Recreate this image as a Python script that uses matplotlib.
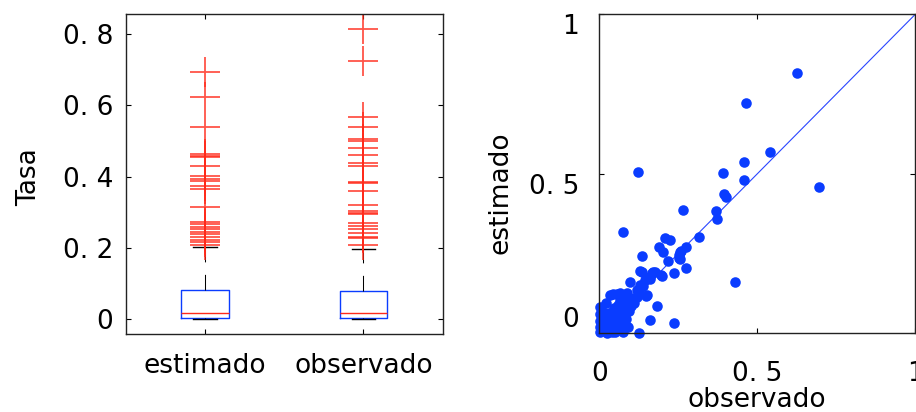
import matplotlib
matplotlib.use("Agg")
import matplotlib.pyplot as plt

# boxplot summary
categories = ["estimado", "observado"]
medians = [0.018, 0.016]
q1 = [0.002, 0.002]
q3 = [0.083, 0.080]
whisk_lo = [0.0, 0.0]
whisk_hi = [0.203, 0.197]
fliers_est = [0.694, 0.625, 0.539, 0.464, 0.459, 0.454, 0.429, 0.401, 0.393,
              0.388, 0.375, 0.366, 0.316, 0.272, 0.266, 0.259, 0.253, 0.246,
              0.238, 0.231, 0.223, 0.216, 0.209]
fliers_obs = [0.815, 0.726, 0.568, 0.539, 0.506, 0.501, 0.480, 0.461, 0.437,
              0.429, 0.385, 0.383, 0.360, 0.321, 0.304, 0.299, 0.294, 0.271,
              0.261, 0.254, 0.243, 0.231, 0.227, 0.207]

# scatter: observado vs estimado
obs = [0.627, 0.463, 0.541, 0.457, 0.457, 0.696, 0.121, 0.391, 0.395, 0.401,
       0.266, 0.368, 0.374, 0.076, 0.315, 0.209, 0.224, 0.188, 0.201, 0.273,
       0.260, 0.252, 0.135, 0.217, 0.256, 0.273, 0.237, 0.135, 0.171, 0.195,
       0.429, 0.097, 0.150, 0.139, 0.118, 0.148, 0.184, 0.044, 0.066, 0.087,
       0.103, 0.159, 0.235, 0.125, 0.256, 0.251, 0.134, 0.145, 0.124, 0.161,
       0.198, 0.177, 0.110, 0.125, 0.130, 0.160, 0.120, 0.129, 0.166, 0.150,
       0.002, 0.002, 0.002, 0.002, 0.002, 0.010, 0.015, 0.012, 0.015, 0.025,
       0.030, 0.030, 0.035, 0.040, 0.045, 0.050, 0.050, 0.055, 0.060, 0.060,
       0.065, 0.070, 0.075, 0.075, 0.080, 0.085, 0.085, 0.090, 0.020, 0.095,
       0.100, 0.040, 0.065, 0.090, 0.110, 0.034, 0.055]
est = [0.815, 0.723, 0.567, 0.537, 0.479, 0.459, 0.505, 0.501, 0.438, 0.428,
       0.385, 0.382, 0.357, 0.319, 0.303, 0.300, 0.293, 0.270, 0.254, 0.270,
       0.259, 0.246, 0.242, 0.228, 0.232, 0.206, 0.190, 0.193, 0.193, 0.182,
       0.161, 0.162, 0.172, 0.148, 0.136, 0.118, 0.087, 0.122, 0.125, 0.125,
       0.104, 0.042, 0.033, 0.000, 0.256, 0.235, 0.151, 0.167, 0.136, 0.175,
       0.179, 0.193, 0.110, 0.130, 0.150, 0.170, 0.115, 0.196, 0.188, 0.120,
       0.084, 0.060, 0.040, 0.020, 0.003, 0.070, 0.050, 0.030, 0.010, 0.002,
       0.040, 0.065, 0.020, 0.055, 0.080, 0.035, 0.003, 0.065, 0.090, 0.020,
       0.050, 0.075, 0.003, 0.035, 0.060, 0.090, 0.045, 0.020, 0.095, 0.070,
       0.085, 0.005, 0.105, 0.110, 0.095, 0.120, 0.124]

box_ticks = [0, 0.2, 0.4, 0.6, 0.8]
box_ticklabels = ["0", "0. 2", "0. 4", "0. 6", "0. 8"]
sc_ticks = [0, 0.5, 1]
sc_ticklabels = ["0", "0. 5", "1"]

blue = "#0a3cff"
red = "#ff2a1a"

plt.rcParams["font.family"] = "DejaVu Sans"
plt.rcParams["font.size"] = 19

fig = plt.figure(figsize=(9.16, 4.12), dpi=100)

# left: boxplot
ax1 = fig.add_axes([125.7 / 916, 78.3 / 412, 317 / 916, 319.4 / 412])
stats = []
for i in range(2):
    stats.append(dict(label=categories[i], med=medians[i], q1=q1[i], q3=q3[i],
                      whislo=whisk_lo[i], whishi=whisk_hi[i],
                      fliers=[fliers_est, fliers_obs][i]))
ax1.bxp(stats, positions=[1, 2], widths=0.3, capwidths=0.15,
        boxprops=dict(color=blue, lw=1),
        medianprops=dict(color=red, lw=1),
        whiskerprops=dict(color="k", lw=0.75, ls=(0, (15, 12))),
        capprops=dict(color="k", lw=1),
        flierprops=dict(marker="+", markeredgecolor=red, markersize=22,
                        markeredgewidth=1.3, alpha=0.8))
ax1.set_xlim(0.5, 2.5)
ax1.set_ylim(-0.041, 0.856)
ax1.set_yticks(box_ticks)
ax1.set_yticklabels(box_ticklabels)
ax1.tick_params(direction="in", top=True, right=True, length=3.5, width=0.8)
ax1.tick_params(axis="y", pad=9)
ax1.tick_params(axis="x", pad=14)
ax1.set_ylabel("Tasa")
ax1.yaxis.set_label_coords(-0.264, 0.49)

# right: scatter
ax2 = fig.add_axes([599.3 / 916, 78.7 / 412, 316 / 916, 319 / 412])
ax2.plot([0, 1], [0, 1], color="#2a45ff", lw=0.8)
ax2.plot(obs, est, "o", color=blue, markersize=7.6, markeredgewidth=0,
         clip_on=False)
ax2.set_xlim(0, 1)
ax2.set_ylim(0, 1)
ax2.set_xticks(sc_ticks)
ax2.set_xticklabels(sc_ticklabels)
ax2.set_yticks(sc_ticks)
ax2.set_yticklabels(sc_ticklabels)
ax2.tick_params(direction="in", top=True, right=True, length=3.5, width=0.8)
ax2.tick_params(axis="y", pad=14.5)
ax2.tick_params(axis="x", pad=20)
for t in ax2.get_yticklabels():
    t.set_va("top")
ax2.get_yticklabels()[0].set_va("bottom")
ax2.set_xlabel("observado", labelpad=0)
ax2.set_ylabel("estimado")
ax2.yaxis.set_label_coords(-0.27, 0.441)

for ax in (ax1, ax2):
    for s in ax.spines.values():
        s.set_color("#222222")
        s.set_linewidth(1)

fig.savefig("out.png", dpi=100)
